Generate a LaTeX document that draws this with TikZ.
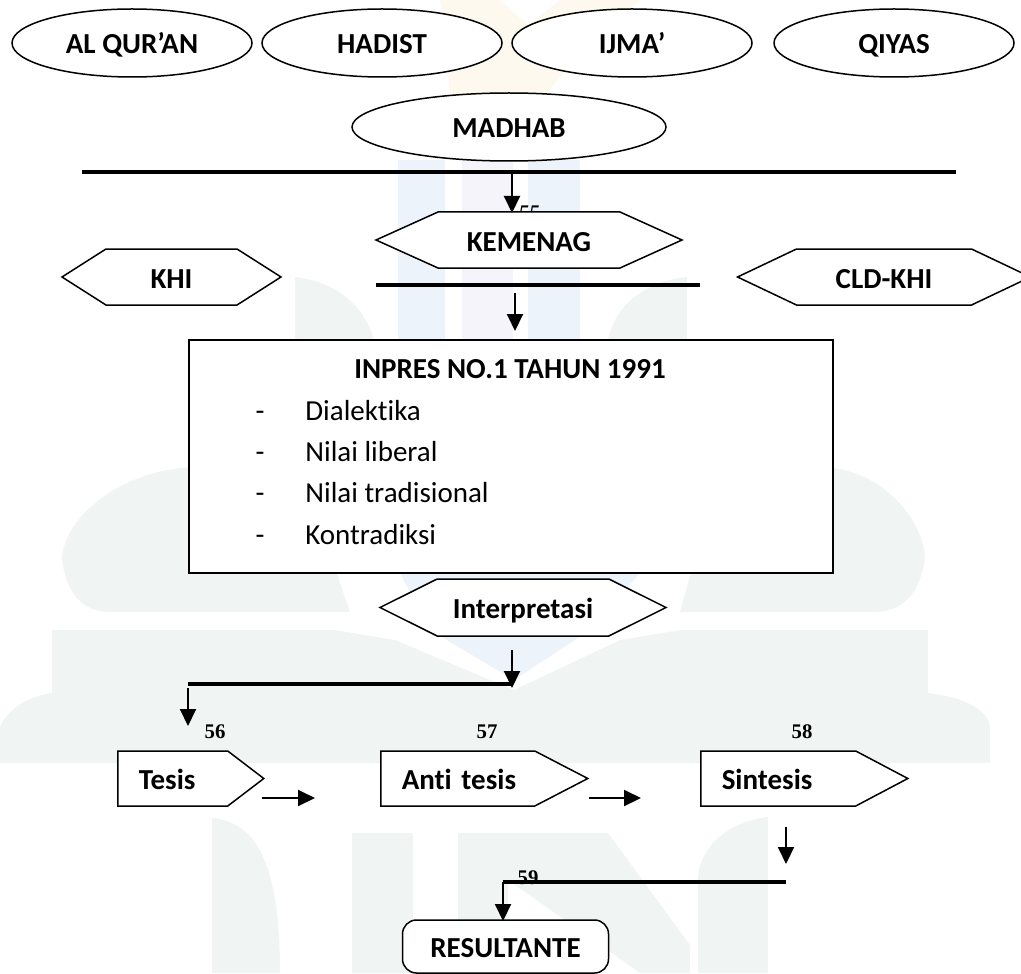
\documentclass[tikz,border=0pt]{standalone}
\usepackage{fontspec}
\setmainfont{Carlito}[Ligatures=NoCommon]
\newfontfamily\numberFont{Liberation Serif}
\usetikzlibrary{positioning,shapes.geometric,shapes.symbols,arrows.meta}
\definecolor{wmGreen}{HTML}{F0F5F3}
\definecolor{wmBlue}{HTML}{EDF3FA}
\definecolor{wmPurple}{HTML}{F5F4FA}
\definecolor{wmCream}{HTML}{FDF9EE}
\tikzset{
		boxStyle/.style =   {draw,fill=white,line width=0.75pt,font=\fontsize{14.5}{17}\selectfont\bfseries,
		                     inner sep=0pt,text height=11pt,text depth=0pt},
		sourceStyle/.style = {boxStyle,ellipse,minimum width=120pt,minimum height=34pt},
		hexStyle/.style =   {boxStyle,signal,signal to=west and east,minimum height=28pt},
		tagStyle/.style =   {boxStyle,signal,signal to=east,minimum height=27.5pt,anchor=west,
		                     inner xsep=10.5pt,align=left},
		barStyle/.style =   {line width=1.8pt},
		arrowStyle/.style = {line width=1pt,-{Triangle[length=8.5pt,width=8pt]},shorten >=-0.5pt},
		noteStyle/.style =  {font=\numberFont\fontsize{10.4}{12}\selectfont\bfseries,inner sep=0pt},
		itemStyle/.style =  {font=\fontsize{14.5}{17}\selectfont,inner sep=0pt}
}

\begin{document}
\begin{tikzpicture}[x=0.5pt,y=-0.5pt]
  \useasboundingbox (0,0) rectangle (1021,973);

  % Draw faint logo behind everything
  \fill [wmCream] (440,0)--(500,0)--(528,25)--(560,0)--(640,0)--(575,60)--(545,95)--(450,95)--(445,40)--cycle;
  \foreach \xa/\xb/\c in {398/445/wmBlue,462/513/wmPurple,528/580/wmBlue}
    \fill [\c] (\xa,160) rectangle (\xb,345);
  \fill [wmGreen] (295,277) .. controls (340,282) and (368,310) .. (375,345)--(295,345)--cycle;
  \fill [wmGreen] (687,277) .. controls (640,282) and (612,310) .. (607,345)--(687,345)--cycle;
  \fill [wmGreen] (62,560) .. controls (62,520) and (120,467) .. (200,467)--(300,467)--(350,612)--(110,612)
    .. controls (80,612) and (66,590) .. (62,560)--cycle;
  \fill [wmGreen] (925,560) .. controls (925,520) and (880,467) .. (820,467)--(720,467)--(680,612)--(875,612)
    .. controls (905,612) and (920,590) .. (925,560)--cycle;
  \fill [wmBlue] (400,573)--(640,573)--(590,630)--(514,680)--(430,630)--cycle;
  \fill [wmGreen] (52,630)--(335,630)--(395,640)--(514,690)--(620,640)--(680,630)--(928,630)--(928,693)
    .. controls (965,697) and (988,710) .. (990,727)--(990,763)--(0,763)--(0,727) .. controls (8,708) and (30,696) .. (52,693)--cycle;
  \fill [wmGreen] (212,973)--(212,818) .. controls (255,822) and (280,860) .. (280,973)--cycle;
  \fill [wmGreen] (352,833) rectangle (413,973);
  \fill [wmGreen] (458,973)--(458,833)--(608,833)--(690,945)--(690,973)--(640,973)--(508,880)--(508,973)--cycle;
  \fill [wmGreen] (698,973)--(698,880) .. controls (698,850) and (725,822) .. (768,817)--(768,973)--cycle;

  % Draw source ellipses
  \foreach \name/\cx/\txt in {alquran/132/AL QUR’AN,hadist/382/HADIST,ijma/632/IJMA’,qiyas/894/QIYAS}
    \node [sourceStyle] (\name) at (\cx,43) {\txt};
  \node [sourceStyle,minimum width=157pt] (madhab) at (509,127) {MADHAB};

  % Clipped page number sits behind the hexagon
  \node [noteStyle,font=\numberFont\fontsize{10.4}{12}\selectfont\bfseries\itshape,anchor=base] (noteA) at (529,220) {55};

  % Draw hexagons
  \node [hexStyle,minimum width=153pt,signal pointer angle=48.6] (kemenag) at (529,240) {KEMENAG};
  \node [hexStyle,minimum width=109.5pt,signal pointer angle=65] (khi) at (171.5,277) {KHI};
  \node [hexStyle,minimum width=146.5pt,signal pointer angle=50.8] (cldkhi) at (884,277) {CLD-KHI};
  \node [hexStyle,minimum width=143pt,signal pointer angle=53,minimum height=28.5pt] (interpretasi) at (523,607.5) {Interpretasi};

  % Draw main box and its list
  \node [draw,fill=white,line width=1pt,minimum width=322pt,minimum height=116.5pt,inner sep=0pt] (inpres) at (510.5,456.5) {};
  \node [itemStyle,font=\fontsize{14.5}{17}\selectfont\bfseries] (inpresTitle) at (510,369) {INPRES NO.1 TAHUN 1991};
  \foreach \txt/\y [count=\i] in {Dialektika/420,Nilai liberal/461,Nilai tradisional/502,Kontradiksi/544}
  {
    \node [itemStyle,anchor=base] (dash\i) at (260,\y) {-};
    \node [itemStyle,anchor=base west] (item\i) at (305,\y) {\txt};
  }

  % Draw tags
  \node [tagStyle,text width=34pt,signal pointer angle=74.7] (tesis) at (117,778.5) {Tesis};
  \node [tagStyle,text width=56pt,signal pointer angle=54.8] (antitesis) at (380,778.5) {\mbox{Anti tesis}};
  \node [tagStyle,text width=56.5pt,signal pointer angle=55.7] (sintesis) at (700,778.5) {Sintesis};

  \node [boxStyle,rounded corners=7pt,minimum width=103pt,minimum height=26.5pt,inner sep=0pt] (resultante) at (505.5,946.5) {RESULTANTE};

  % Page numbers
  \foreach \name/\cx/\txt in {noteB/215/56,noteC/487/57,noteD/802/58}
    \node [noteStyle,anchor=base] (\name) at (\cx,738) {\txt};
  \node [noteStyle,anchor=base] (noteE) at (528,884) {59};

  % Free ends of the connectors
  \coordinate (topBarL) at (82,172);
  \coordinate (topBarR) at (956,172);
  \coordinate (midBarL) at (376,285);
  \coordinate (midBarR) at (700,285);
  \coordinate (lowBarL) at (188,684);
  \coordinate (lowBarR) at (512,684);
  \coordinate (endBarL) at (503,882);
  \coordinate (endBarR) at (786,882);
  \coordinate (downA) at (512,174);
  \coordinate (downAe) at (512,212);
  \coordinate (downB) at (515,293);
  \coordinate (downBe) at (515,330);
  \coordinate (downC) at (512,650);
  \coordinate (downCe) at (512,687);
  \coordinate (downD) at (188,688);
  \coordinate (downDe) at (188,725);
  \coordinate (downE) at (786,827);
  \coordinate (downEe) at (786,863);
  \coordinate (downF) at (503,920);
  \coordinate (rightA) at (262,798);
  \coordinate (rightAe) at (314,798);
  \coordinate (rightB) at (589,798);
  \coordinate (rightBe) at (640,798);

  % Draw bars
  \foreach \a/\b in {topBarL/topBarR,midBarL/midBarR,lowBarL/lowBarR,endBarL/endBarR}
    \draw [barStyle] (\a)--(\b);

  % Draw arrows
  \foreach \a/\b in {downA/downAe,downB/downBe,downC/downCe,downD/downDe,downE/downEe,endBarL/downF,rightA/rightAe,rightB/rightBe}
    \draw [arrowStyle] (\a)--(\b);
\end{tikzpicture}
\end{document}
